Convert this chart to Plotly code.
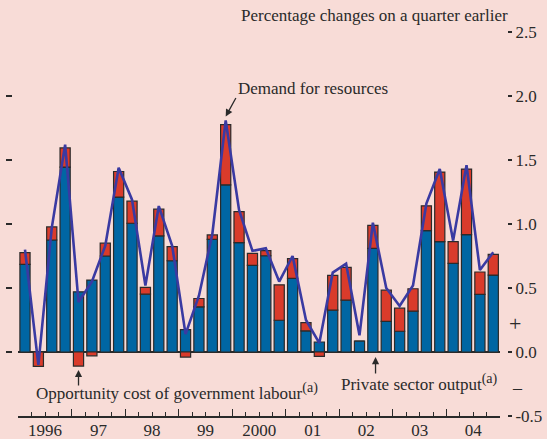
import plotly.graph_objects as go

# Quarters 1996 Q1 .. 2004 Q4
quarters = [f"{y} Q{q}" for y in range(1996, 2005) for q in range(1, 5)]
year_labels = ["1996", "97", "98", "99", "2000", "01", "02", "03", "04"]

# Private sector output (blue)
private_output = [0.685, 0.0, 0.875, 1.445, 0.47, 0.562, 0.75, 1.21,
                  1.006, 0.452, 0.907, 0.713, 0.175, 0.353, 0.88, 1.306,
                  0.854, 0.677, 0.752, 0.248, 0.575, 0.165, 0.078, 0.327,
                  0.405, 0.086, 0.81, 0.24, 0.162, 0.319, 0.949, 0.862,
                  0.693, 0.917, 0.45, 0.601]
# Opportunity cost of government labour (red)
gov_labour = [0.091, -0.112, 0.102, 0.149, -0.11, -0.03, 0.10, 0.20,
              0.172, 0.053, 0.209, 0.11, -0.04, 0.065, 0.035, 0.471,
              0.243, 0.094, 0.04, 0.277, 0.154, 0.065, -0.034, 0.272,
              0.256, 0.0, 0.179, 0.243, 0.18, 0.175, 0.193, 0.544,
              0.169, 0.512, 0.175, 0.162]
# Demand for resources (line)
demand = [0.80, -0.10, 0.97, 1.62, 0.39, 0.55, 0.83, 1.44,
          1.19, 0.52, 1.14, 0.83, 0.14, 0.44, 0.92, 1.81,
          1.11, 0.79, 0.81, 0.55, 0.75, 0.25, 0.07, 0.62,
          0.69, 0.13, 1.01, 0.50, 0.36, 0.52, 1.16, 1.43,
          0.87, 1.46, 0.64, 0.78]
y_ticks = [-0.5, 0.0, 0.5, 1.0, 1.5, 2.0, 2.5]

BG = "#F8DCD7"
BLUE = "#0066A3"
RED = "#D93B2B"
LINE = "#3A3AA2"
INK = "#2A2A2A"
FONT = "Liberation Serif"
FS = 17

xs = list(range(len(quarters)))
n = len(quarters)

fig = go.Figure()
fig.add_trace(go.Bar(x=xs, y=private_output, marker=dict(color=BLUE, line=dict(color=INK, width=1.2)),
                     hovertext=quarters, name="Private sector output"))
fig.add_trace(go.Bar(x=xs, y=gov_labour, marker=dict(color=RED, line=dict(color=INK, width=1.2)),
                     hovertext=quarters, name="Opportunity cost of government labour"))
fig.add_trace(go.Scatter(x=xs, y=demand, mode="lines", line=dict(color=LINE, width=2.6),
                         name="Demand for resources"))

yr = [-0.5, 2.5]
xr = [-0.5, n - 0.5]
year_centres = [4 * i + 1.5 for i in range(len(year_labels))]
year_bounds = [4 * i - 0.5 for i in range(len(year_labels) + 1)]
quarter_bounds = [i - 0.5 for i in range(n + 1)]

fig.update_layout(
    width=547, height=439,
    margin=dict(l=5, r=40, t=32, b=23, autoexpand=False),
    paper_bgcolor=BG, plot_bgcolor=BG,
    barmode="relative", bargap=0.24,
    showlegend=False,
    font=dict(family=FONT, size=FS, color=INK),
    xaxis=dict(range=xr, domain=[0.0265, 0.986], tickmode="array", tickvals=year_centres,
               ticktext=year_labels, ticks="", showline=True, linecolor=INK, linewidth=1.5,
               showgrid=False, zeroline=False, fixedrange=True, automargin=False,
               ticklabelstandoff=-2,
               tickfont=dict(family=FONT, size=FS, color=INK)),
    xaxis2=dict(range=xr, overlaying="x", anchor="y", side="bottom", tickmode="array",
                tickvals=year_bounds, ticks="inside", ticklen=7, tickwidth=1.3, tickcolor=INK,
                minor=dict(tickmode="array", tickvals=quarter_bounds, ticks="inside", ticklen=4,
                           tickwidth=1.2, tickcolor=INK),
                showticklabels=False, showline=False, showgrid=False, zeroline=False,
                automargin=False),
    yaxis=dict(range=yr, showticklabels=False, ticks="", showgrid=False, automargin=False,
               zeroline=True, zerolinecolor=INK, zerolinewidth=1.6, showline=False),
    yaxis2=dict(range=yr, overlaying="y", anchor="free", position=1.0, side="right",
                tickmode="array", tickvals=y_ticks, ticktext=[f"{v:.1f}" for v in y_ticks],
                ticks="outside", ticklen=4, tickwidth=1.5, tickcolor=INK, automargin=False,
                showline=False, showgrid=False, zeroline=False,
                tickfont=dict(family=FONT, size=FS, color=INK)),
    yaxis3=dict(range=yr, overlaying="y", anchor="free", position=0.0, side="left",
                tickmode="array", tickvals=y_ticks, ticks="inside", ticklen=6, tickwidth=1.5,
                tickcolor=INK, showticklabels=False, showline=False, showgrid=False,
                zeroline=False, automargin=False),
)

# invisible traces so the overlay axes are drawn
fig.add_trace(go.Scatter(x=[0], y=[0], xaxis="x2", yaxis="y2", mode="markers",
                         marker=dict(opacity=0), hoverinfo="skip"))
fig.add_trace(go.Scatter(x=[0], y=[0], xaxis="x", yaxis="y3", mode="markers",
                         marker=dict(opacity=0), hoverinfo="skip"))

tfont = dict(family=FONT, size=FS, color=INK)
SUP = "<sup><span style='font-size:14px'>(a)</span></sup>"
anns = [
    dict(x=1.006, y=1.044, xref="paper", yref="paper",
         text="Percentage changes on a quarter earlier", xanchor="right",
         yanchor="middle", showarrow=False, font=tfont),
    dict(x=15.75, y=2.055, text="Demand for resources", xanchor="left", yanchor="middle",
         showarrow=False, font=tfont),
    dict(x=15, y=1.84, text="", showarrow=True, arrowhead=2, arrowsize=1.1, arrowwidth=1.3,
         arrowcolor=INK, ax=11, ay=-20),
    dict(x=0.68, y=-0.305, text="Opportunity cost of government labour" + SUP,
         xanchor="left", yanchor="middle", showarrow=False, font=tfont),
    dict(x=4, y=-0.14, text="", showarrow=True, arrowhead=2, arrowsize=1.1, arrowwidth=1.3,
         arrowcolor=INK, ax=0, ay=17),
    dict(x=23.48, y=-0.242, text="Private sector output" + SUP, xanchor="left",
         yanchor="middle", showarrow=False, font=tfont),
    dict(x=26.2, y=-0.04, text="", showarrow=True, arrowhead=2, arrowsize=1.1, arrowwidth=1.3,
         arrowcolor=INK, ax=0, ay=18),
    dict(x=1.016, y=0.242, xref="paper", yref="paper", text="+", showarrow=False,
         xanchor="center", yanchor="middle", font=dict(family=FONT, size=22, color=INK)),
    dict(x=1.02, y=0.073, xref="paper", yref="paper", text="–", showarrow=False,
         xanchor="center", yanchor="middle", font=dict(family=FONT, size=18, color=INK)),
]
for a in anns:
    a.setdefault("xref", "x")
    a.setdefault("yref", "y")
fig.update_layout(annotations=anns)

fig.write_html("out.html", config={"displayModeBar": False},
               post_script="document.body.style.margin='0';document.body.style.background='%s';" % BG)
